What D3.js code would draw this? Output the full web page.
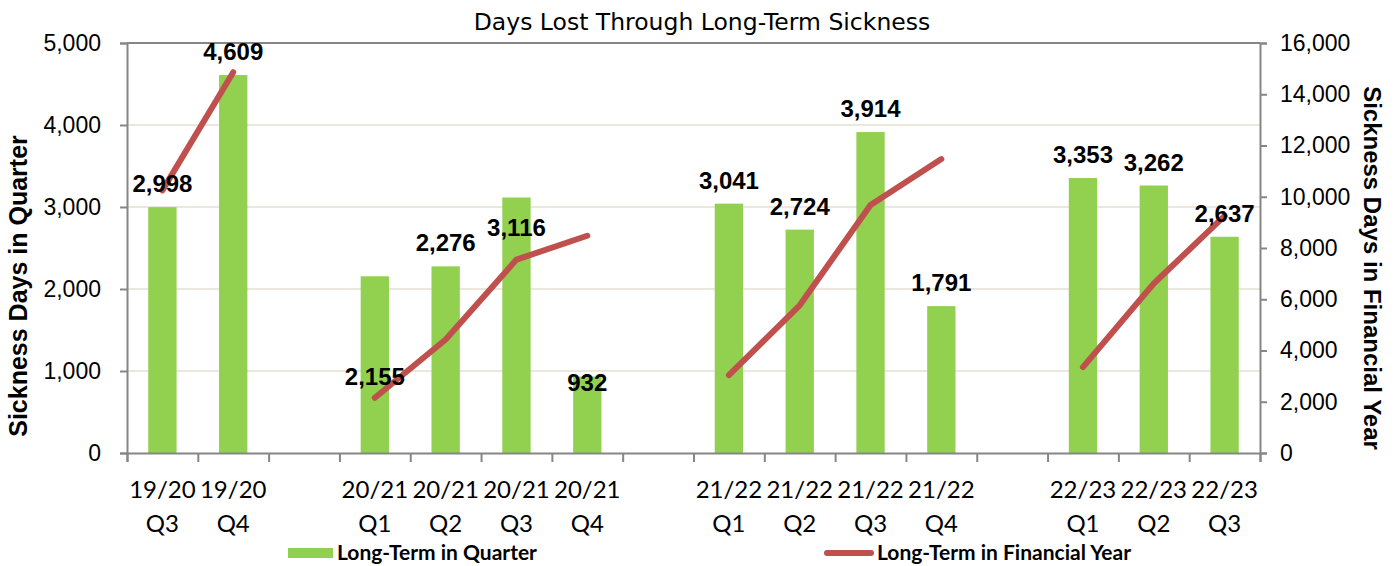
<!DOCTYPE html>
<html>
<head>
<meta charset="utf-8">
<script src="https://cdn.jsdelivr.net/npm/d3@7"></script>
<style>
  body { margin:0; background:#fff; }
</style>
</head>
<body>
<div id="chart"></div>
<script>
// financial year / quarter for each slot ("" = gap between years)
const periods  = ["19/20","19/20","","20/21","20/21","20/21","20/21","","21/22","21/22","21/22","21/22","","22/23","22/23","22/23"];
const quarters = ["Q3","Q4","","Q1","Q2","Q3","Q4","","Q1","Q2","Q3","Q4","","Q1","Q2","Q3"];

// long-term sickness days in the quarter (bars, left axis)
const quarterDays = [2998,4609,null,2155,2276,3116,932,null,3041,2724,3914,1791,null,3353,3262,2637];
// running total for the financial year (line, right axis)
const yearDays = [10250,14860,null,2155,4431,7547,8479,null,3041,5765,9679,11470,null,3353,6615,9252];

const leftTicks  = [0,1000,2000,3000,4000,5000];
const rightTicks = [0,2000,4000,6000,8000,10000,12000,14000,16000];

const W = 1400, H = 566;
const margin = {top:43, right:140, bottom:113, left:127},
      width = W - margin.left - margin.right,
      height = H - margin.top - margin.bottom;

const svg = d3.select("#chart").append("svg")
  .attr("width", W).attr("height", H);

const g = svg.append("g")
  .attr("transform", `translate(${margin.left},${margin.top})`);

const idx = d3.range(periods.length);
const x = d3.scaleBand().domain(idx).range([0, width]);
const xEdge = d3.scaleLinear().domain([0, periods.length]).range([0, width]);
const yLeft = d3.scaleLinear().domain([0, 5000]).range([height, 0]);
const yRight = d3.scaleLinear().domain([0, 16000]).range([height, 0]);

const axisGrey = "#868686";

// gridlines
g.append("g").selectAll("line")
  .data(leftTicks.filter(t => t > 0 && t < 5000))
  .enter().append("line")
  .attr("x1", 0).attr("x2", width)
  .attr("y1", d => yLeft(d)).attr("y2", d => yLeft(d))
  .attr("stroke", "#ebe7dd").attr("stroke-width", 2);

// top border of plot
g.append("line")
  .attr("x1", 0).attr("x2", width)
  .attr("y1", yLeft(5000)).attr("y2", yLeft(5000))
  .attr("stroke", axisGrey).attr("stroke-width", 2);

// bars
const bw = x.bandwidth() * 0.4;
g.append("g").selectAll("rect")
  .data(idx.filter(i => quarterDays[i] != null))
  .enter().append("rect")
  .attr("x", i => x(i) + x.bandwidth()/2 - bw/2)
  .attr("width", bw)
  .attr("y", i => yLeft(quarterDays[i]))
  .attr("height", i => height - yLeft(quarterDays[i]))
  .attr("fill", "#92d050");

// line (broken between financial years)
const line = d3.line()
  .defined(i => yearDays[i] != null)
  .x(i => x(i) + x.bandwidth()/2)
  .y(i => yRight(yearDays[i]));

g.append("path")
  .datum(idx)
  .attr("fill", "none")
  .attr("stroke", "#c0504d")
  .attr("stroke-width", 6)
  .attr("stroke-linecap", "round")
  .attr("stroke-linejoin", "round")
  .attr("d", line);

// data labels, a few were dragged off the bar top in the original
const labelNudge = {3:124, 5:54, 6:29};
g.append("g").selectAll("text")
  .data(idx.filter(i => quarterDays[i] != null))
  .enter().append("text")
  .attr("x", i => x(i) + x.bandwidth()/2)
  .attr("y", i => yLeft(quarterDays[i]) - 15 + (labelNudge[i] || 0))
  .attr("text-anchor", "middle")
  .style("font-family", "'Liberation Sans', Arial, sans-serif")
  .style("font-weight", "bold")
  .style("font-size", "24px")
  .attr("fill", "#000")
  .text(i => d3.format(",")(quarterDays[i]));

// left axis
const gl = g.append("g")
  .call(d3.axisLeft(yLeft).tickValues(leftTicks).tickFormat(d3.format(",")).tickSize(7).tickPadding(19));
// right axis
const gr = g.append("g")
  .attr("transform", `translate(${width},0)`)
  .call(d3.axisRight(yRight).tickValues(rightTicks).tickFormat(d3.format(",")).tickSize(7).tickPadding(13));
// bottom axis: ticks on category edges
const gb = g.append("g")
  .attr("transform", `translate(0,${height})`)
  .call(d3.axisBottom(xEdge).tickValues(d3.range(periods.length + 1)).tickFormat("").tickSize(9));

[gl, gr, gb].forEach(a => {
  a.select(".domain").attr("stroke", axisGrey).attr("stroke-width", 2);
  a.selectAll(".tick line").attr("stroke", axisGrey).attr("stroke-width", 2);
});
[gl, gr].forEach(a => {
  a.selectAll(".tick text")
    .style("font-family", "'Liberation Sans', Arial, sans-serif")
    .style("font-size", "23px")
    .attr("fill", "#000");
});

// category labels, two lines
const cat = g.append("g").selectAll("text")
  .data(idx.filter(i => periods[i] !== ""))
  .enter().append("text")
  .attr("text-anchor", "middle")
  .style("font-family", "Lato, 'Open Sans', sans-serif")
  .style("font-size", "24px")
  .attr("fill", "#000");
cat.append("tspan")
  .attr("x", i => x(i) + x.bandwidth()/2)
  .attr("y", height + 45)
  .text(i => periods[i]);
cat.append("tspan")
  .attr("x", i => x(i) + x.bandwidth()/2)
  .attr("y", height + 79)
  .text(i => quarters[i]);

// title
svg.append("text")
  .attr("x", 702).attr("y", 30)
  .attr("text-anchor", "middle")
  .style("font-family", "'DejaVu Sans', sans-serif")
  .style("font-size", "23.5px")
  .text("Days Lost Through Long-Term Sickness");

// axis titles
svg.append("text")
  .attr("transform", "translate(27,286) rotate(-90)")
  .attr("text-anchor", "middle")
  .style("font-family", "'Liberation Sans', Arial, sans-serif")
  .style("font-weight", "bold")
  .style("font-size", "25px")
  .text("Sickness Days in Quarter");

svg.append("text")
  .attr("transform", "translate(1364,268) rotate(90)")
  .attr("text-anchor", "middle")
  .style("font-family", "'Liberation Sans', Arial, sans-serif")
  .style("font-weight", "bold")
  .style("font-size", "24px")
  .text("Sickness Days in Financial Year");

// legend
const legend = svg.append("g")
  .style("font-family", "Lato, 'Open Sans', sans-serif")
  .style("font-weight", "bold")
  .style("font-size", "21px");
legend.append("rect")
  .attr("x", 288).attr("y", 548)
  .attr("width", 45).attr("height", 10)
  .attr("fill", "#92d050");
legend.append("text")
  .attr("x", 337).attr("y", 560)
  .text("Long-Term in Quarter");
legend.append("line")
  .attr("x1", 827).attr("x2", 871)
  .attr("y1", 553).attr("y2", 553)
  .attr("stroke", "#c0504d").attr("stroke-width", 6)
  .attr("stroke-linecap", "round");
legend.append("text")
  .attr("x", 877).attr("y", 560)
  .text("Long-Term in Financial Year");
</script>
</body>
</html>
